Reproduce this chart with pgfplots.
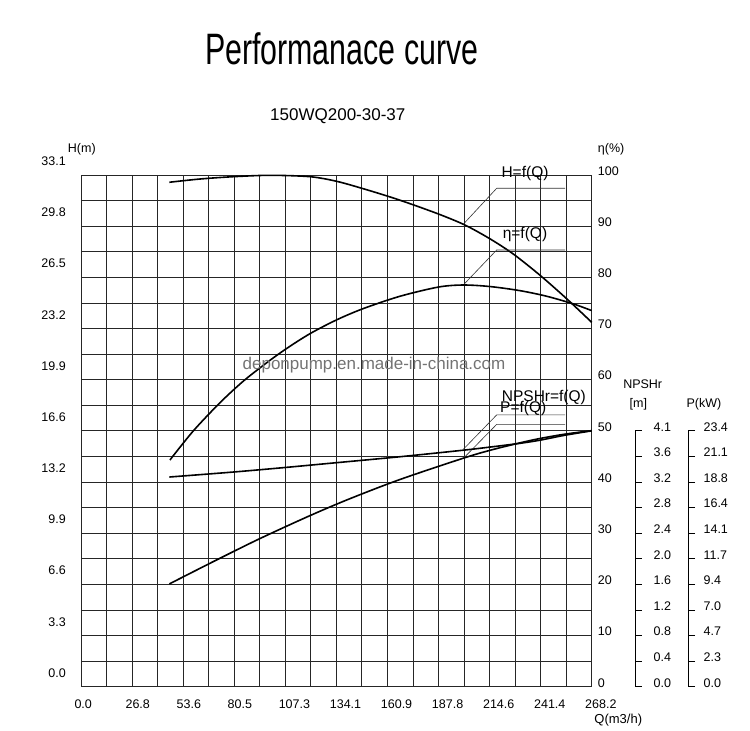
\documentclass[border=0pt]{standalone}
\usepackage{fontspec}
\setmainfont{Liberation Sans}
\usepackage{graphicx}
\usepackage{pgfplots}
\pgfplotsset{compat=1.18}

\newcommand{\fs}[1]{\fontsize{#1}{#1}\selectfont}

\tikzset{lead/.style={black!80, line width=0.6pt}}
\pgfplotsset{
  plotarea/.style={at={(81pt,44.3pt)}, anchor=south west, scale only axis,
    width=510.7pt, height=511.7pt, xmin=0, xmax=268.2, clip=false},
  curve/.style={black, line width=1.6pt, smooth},
  scalebar/.style={anchor=south west, scale only axis, width=1pt, height=255.85pt,
    xmin=0, xmax=1, hide x axis, axis y line*=right, tick align=outside,
    major tick length=6.7pt, y axis line style={black, line width=0.7pt},
    tick style={black, line width=0.7pt},
    yticklabel style={font=\fs{12.5}, inner sep=0pt, anchor=west, yshift=4pt}},
}

\begin{document}
\begin{tikzpicture}
\path[use as bounding box] (0,0) rectangle (750pt,731pt);

% grid, H axis and H curve
\begin{axis}[plotarea, ymin=0, ymax=33.1,
  xtick={0,26.82,53.64,80.46,107.28,134.1,160.92,187.74,214.56,241.38,268.2},
  xticklabels={0.0,26.8,53.6,80.5,107.3,134.1,160.9,187.8,214.6,241.4,268.2},
  minor xtick={13.41,40.23,67.05,93.87,120.69,147.51,174.33,201.15,227.97,254.79},
  ytick={0,3.31,6.62,9.93,13.24,16.55,19.86,23.17,26.48,29.79,33.1},
  yticklabels={0.0,3.3,6.6,9.9,13.2,16.6,19.9,23.2,26.5,29.8,33.1},
  minor ytick={1.655,4.965,8.275,11.585,14.895,18.205,21.515,24.825,28.135,31.445},
  grid=both,
  major grid style={black!85, line width=0.8pt},
  minor grid style={black!85, line width=0.8pt},
  axis line style={black!85, line width=0.8pt},
  major tick length=0pt, minor tick length=0pt,
  tick label style={font=\fs{12.5}, inner sep=0pt},
  xticklabel style={anchor=north west, xshift=-6.7pt, yshift=-12.6pt},
  yticklabel style={anchor=east, xshift=-15pt, yshift=13.7pt},
]
\addplot[curve] table {
46.4 32.63
62.5 32.84
80.0 32.99
99.3 33.08
120.3 32.99
134.3 32.69
148.3 32.21
162.3 31.68
174.5 31.17
188.5 30.54
201.7 29.86
214.8 28.97
227.0 27.99
241.0 26.62
255.1 25.09
268.2 23.57
};
% leader lines of the curve labels
\draw[lead] (axis cs:200.8,29.92) -- (axis cs:218.3,32.24) -- (axis cs:254.2,32.24);
\draw[lead] (axis cs:200.8,25.99) -- (axis cs:218.3,28.25) -- (axis cs:254.2,28.25);
\draw[lead] (axis cs:200.8,15.36) -- (axis cs:218.3,17.58) -- (axis cs:254.2,17.58);
\draw[lead] (axis cs:200.8,14.77) -- (axis cs:218.3,16.97) -- (axis cs:254.2,16.97);
\end{axis}

% efficiency
\begin{axis}[plotarea, ymin=0, ymax=100, hide x axis, axis y line*=right,
  y axis line style={draw=none}, major tick length=0pt,
  ytick={0,10,20,30,40,50,60,70,80,90,100},
  yticklabels={0,10,20,30,40,50,60,70,80,90,100},
  yticklabel style={font=\fs{12.5}, inner sep=0pt, anchor=west, xshift=6pt, yshift=4pt}]
\addplot[curve] table {
46.7 44.3
59.0 50.0
73.0 55.5
85.2 59.7
97.5 63.3
108.0 66.1
120.3 69.0
134.3 71.7
148.3 73.9
167.5 76.3
187.7 78.1
200.8 78.5
214.8 78.2
230.5 77.4
244.6 76.3
258.6 74.8
268.2 73.5
};
\end{axis}

% NPSHr curve
\begin{axis}[plotarea, ymin=0, ymax=8.2, hide axis]
\addplot[curve] table {
46.4 3.36
80.0 3.44
106.2 3.51
132.5 3.585
167.5 3.685
200.8 3.79
214.8 3.84
230.5 3.90
241.0 3.95
254.2 4.03
268.2 4.10
};
\end{axis}

% shaft power curve
\begin{axis}[plotarea, ymin=0, ymax=46.8, hide axis]
\addplot[curve] table {
46.4 9.40
71.3 11.60
94.0 13.55
120.3 15.65
141.3 17.20
167.5 18.95
200.8 20.90
214.8 21.62
230.5 22.30
241.0 22.70
254.2 23.10
268.2 23.42
};
\end{axis}

% NPSHr scale
\begin{axis}[scalebar, at={(634pt,44.3pt)}, ymin=0, ymax=4.1,
  ytick={0,0.41,0.82,1.23,1.64,2.05,2.46,2.87,3.28,3.69,4.1},
  yticklabels={0.0,0.4,0.8,1.2,1.6,2.0,2.4,2.8,3.2,3.6,4.1},
  yticklabel style={xshift=11.7pt}]
\end{axis}

% P scale
\begin{axis}[scalebar, at={(687.3pt,44.3pt)}, ymin=0, ymax=23.4,
  ytick={0,2.34,4.68,7.02,9.36,11.7,14.04,16.38,18.72,21.06,23.4},
  yticklabels={0.0,2.3,4.7,7.0,9.4,11.7,14.1,16.4,18.8,21.1,23.4},
  yticklabel style={xshift=8.4pt}]
\end{axis}

% texts
\node[anchor=base, inner sep=0pt] at (341.7pt,666pt)
  {\scalebox{0.69}[1]{\fs{44}Performanace curve}};
\node[anchor=base, inner sep=0pt, font=\fs{17}] at (337.8pt,610pt) {150WQ200-30-37};
\node[anchor=base west, inner sep=0pt, font=\fs{12.5}] at (67.7pt,578.2pt) {H(m)};
\node[anchor=base west, inner sep=0pt, font=\fs{12.5}] at (597.7pt,578.2pt) {η(\%)};
\node[anchor=base, inner sep=0pt, font=\fs{12.5}] at (642.7pt,342.5pt) {NPSHr};
\node[anchor=base, inner sep=0pt, font=\fs{12.5}] at (638.3pt,323pt) {[m]};
\node[anchor=base, inner sep=0pt, font=\fs{12.5}] at (704pt,323pt) {P(kW)};
\node[anchor=base, inner sep=0pt, font=\fs{13}] at (618.3pt,7.5pt) {Q(m3/h)};
\node[anchor=base, inner sep=0pt, font=\fs{17}, text=black!55] at (374pt,361pt)
  {deponpump.en.made-in-china.com};
\node[anchor=base, inner sep=0pt, font=\fs{15.5}] at (525pt,553.5pt) {H=f(Q)};
\node[anchor=base, inner sep=0pt, font=\fs{15.5}] at (525pt,492.5pt) {η=f(Q)};
\node[anchor=base west, inner sep=0pt, font=\fs{15.5}] at (501.7pt,329pt) {NPSHr=f(Q)};
\node[anchor=base west, inner sep=0pt, font=\fs{15.5}] at (500pt,318pt) {P=f(Q)};
\end{tikzpicture}
\end{document}
